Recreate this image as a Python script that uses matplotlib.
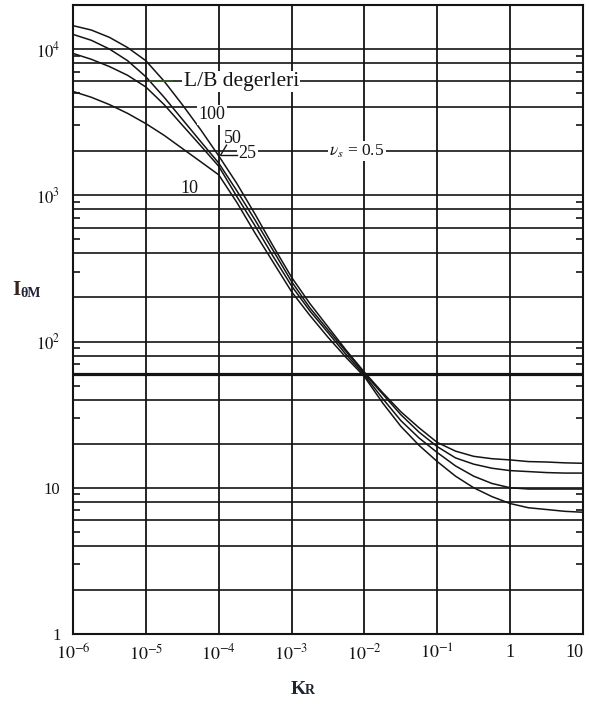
import matplotlib
matplotlib.use("Agg")
import matplotlib.pyplot as plt
from matplotlib.ticker import FixedLocator, NullFormatter

plt.rcParams["font.family"] = ["Liberation Serif", "DejaVu Serif"]
plt.rcParams["mathtext.fontset"] = "stix"

# Relative pile stiffness K_R (quarter-decade steps)
kr = [1e-6, 1.78e-6, 3.16e-6, 5.62e-6,
      1e-5, 1.78e-5, 3.16e-5, 5.62e-5,
      1e-4, 1.78e-4, 3.16e-4, 5.62e-4,
      1e-3, 1.78e-3, 3.16e-3, 5.62e-3,
      1e-2, 1.78e-2, 3.16e-2, 5.62e-2,
      1e-1, 0.178, 0.316, 0.562,
      1.0, 1.78, 3.16, 5.62, 10.0]

# Rotation influence factor I_thetaM for each L/B ratio
i_lb100 = [14450, 13490, 12020, 10230, 8320, 6030, 4170, 2820, 1860, 1200,
           741, 447, 275, 182, 126, 87.1, 61.7, 44.7, 33.1, 25.7,
           20.4, 17.8, 16.4, 15.8, 15.5, 15.1, 15.0, 14.8, 14.7]
i_lb50 = [12590, 11480, 10000, 8320, 6460, 4680, 3310, 2340, 1660, 1070,
          676, 417, 257, 170, 120, 85.1, 60.3, 43.7, 31.6, 24.0,
          19.1, 16.0, 14.5, 13.6, 13.1, 12.9, 12.7, 12.6, 12.6]
i_lb25 = [9330, 8510, 7590, 6610, 5500, 4170, 3020, 2190, 1580, 977,
          617, 380, 240, 162, 115, 81.3, 58.9, 40.7, 28.8, 21.9,
          17.4, 14.1, 12.0, 10.7, 10.0, 9.8, 9.8, 9.8, 9.8]
i_lb10 = [5130, 4680, 4170, 3630, 3090, 2570, 2090, 1700, 1380, 891,
          550, 347, 219, 151, 107, 77.6, 57.5, 38.0, 26.3, 19.5,
          15.1, 12.0, 10.0, 8.7, 7.8, 7.3, 7.1, 6.9, 6.8]

x_ticks = [1e-6, 1e-5, 1e-4, 1e-3, 1e-2, 1e-1, 1, 10]
x_labels = [r"$10^{-6}$", r"$10^{-5}$", r"$10^{-4}$", r"$10^{-3}$",
            r"$10^{-2}$", r"$10^{-1}$", "1", "10"]
y_ticks = [1, 10, 100, 1000, 10000]
y_labels = ["1", "10", r"$10^{2}$", r"$10^{3}$", r"$10^{4}$"]
y_grid = [2, 4, 6, 8, 10, 20, 40, 60, 80, 100, 200, 400, 600, 800,
          1000, 2000, 4000, 6000, 8000, 10000]
y_minor = [3, 5, 7, 9, 30, 50, 70, 90, 300, 500, 700, 900,
           3000, 5000, 7000, 9000]

W, H = 589, 704
fig = plt.figure(figsize=(W / 100, H / 100), dpi=100)
ax = fig.add_axes([73 / W, 1 - 634 / H, (583 - 73) / W, (634 - 5) / H])
ax.set_xscale("log")
ax.set_yscale("log")
ax.set_xlim(1e-6, 10)
ax.set_ylim(1, 2e4)

ink = "#141414"
for xv in x_ticks:
    ax.axvline(xv, color=ink, lw=1.3, zorder=1)
for yv in y_grid:
    ax.axhline(yv, color=ink, lw=2.3 if yv == 60 else 1.2, zorder=1)

for series in (i_lb100, i_lb50, i_lb25, i_lb10):
    ax.plot(kr, series, color=ink, lw=1.1, zorder=3)

for s in ax.spines.values():
    s.set_color(ink)
    s.set_linewidth(1.5)

ax.set_xticks(x_ticks)
ax.set_xticklabels(x_labels)
ax.xaxis.set_minor_locator(FixedLocator([]))
ax.set_yticks(y_ticks)
ax.set_yticklabels(y_labels)
ax.yaxis.set_minor_locator(FixedLocator(y_minor))
ax.yaxis.set_minor_formatter(NullFormatter())
ax.tick_params(axis="both", which="major", length=0, colors=ink)
ax.tick_params(axis="x", which="major", labelsize=13, pad=7)
ax.tick_params(axis="y", which="major", labelsize=12, pad=9)
ax.tick_params(axis="y", which="minor", direction="in", length=5,
               width=1.2, left=True, right=True, color=ink)
ax.get_xticklabels()[-1].set_horizontalalignment("right")

box = dict(facecolor="white", edgecolor="none", pad=1.0)
ax.text(3.3e-5, 6000, "L/B degerleri", fontsize=15.5, ha="left",
        va="center", color=ink, bbox=box, zorder=4)
ax.plot([1.15e-5, 2.3e-5], [6000, 6000], color="#3c5a2c", lw=1.2, zorder=4)
ax.text(8.0e-5, 3550, "100", fontsize=13, ha="center", va="center",
        color=ink, bbox=box, zorder=4)
ax.text(1.55e-4, 2450, "50", fontsize=13, ha="center", va="center",
        color=ink, bbox=box, zorder=4)
ax.text(2.45e-4, 1920, "25", fontsize=13, ha="center", va="center",
        color=ink, bbox=box, zorder=4)
ax.text(3.9e-5, 1120, "10", fontsize=13, ha="center", va="center",
        color=ink, zorder=4)
ax.plot([1.28e-4, 1.06e-4], [2200, 1880], color=ink, lw=1.0, zorder=4)
ax.plot([1.08e-4, 1.8e-4], [1880, 1880], color=ink, lw=1.0, zorder=4)
ax.text(7.9e-3, 2000, r"$\nu_s$ = 0.5", fontsize=12.5, ha="center",
        va="center", color=ink, bbox=box, zorder=4)

fig.text(12 / W, 1 - 290 / H, "I", fontsize=15, fontweight="bold",
         color="#3a2420", ha="left", va="center")
fig.text(20 / W, 1 - 293 / H, "\u03b8M", fontsize=10, fontweight="bold",
         color="#22223a", ha="left", va="center")
fig.text(291 / W, 1 - 689 / H, "K", fontsize=14, fontweight="bold",
         color="#1e2430", ha="left", va="center")
fig.text(305 / W, 1 - 691 / H, "R", fontsize=10, fontweight="bold",
         color="#1e2430", ha="left", va="center")

fig.savefig("out.png", dpi=100, facecolor="white")
